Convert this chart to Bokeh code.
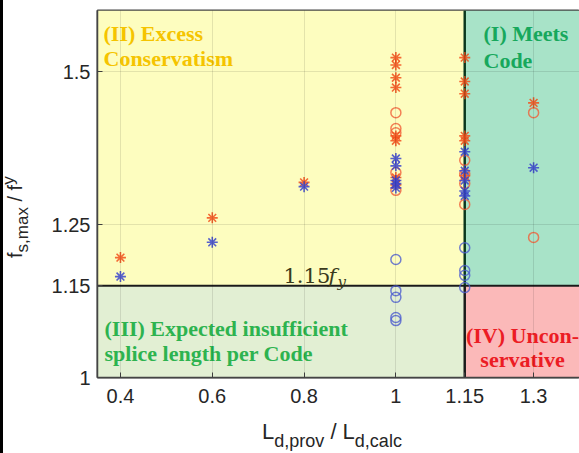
import numpy as np
from bokeh.plotting import figure
from bokeh.models import Label, FixedTicker, CustomJSTickFormatter, Div
from bokeh.layouts import row, column
from bokeh.embed import file_html
from bokeh.resources import INLINE

# ---------------- data ----------------
red_star_x = [0.4, 0.6, 0.8, 1, 1, 1, 1, 1, 1, 1, 1, 1.15, 1.15, 1.15, 1.15, 1.15, 1.15, 1.3]
red_star_y = [1.196, 1.261, 1.319, 1.523, 1.511, 1.490, 1.474, 1.395, 1.387, 1.327, 1.315,
              1.523, 1.484, 1.464, 1.395, 1.387, 1.330, 1.449]

blue_star_x = [0.4, 0.6, 0.8, 1, 1, 1, 1, 1, 1.15, 1.15, 1.15, 1.15, 1.15, 1.3]
blue_star_y = [1.165, 1.221, 1.312, 1.358, 1.346, 1.322, 1.317, 1.310,
               1.369, 1.338, 1.322, 1.305, 1.297, 1.343]

red_circ_x = [1, 1, 1, 1, 1, 1.15, 1.15, 1.15, 1.15, 1.3, 1.3]
red_circ_y = [1.433, 1.407, 1.400, 1.335, 1.306, 1.355, 1.333, 1.317, 1.283, 1.433, 1.229]

blue_circ_x = [1, 1, 1, 1, 1, 1.15, 1.15, 1.15, 1.15]
blue_circ_y = [1.193, 1.142, 1.131, 1.098, 1.093, 1.212, 1.175, 1.167, 1.147]

x_ticks = [0.4, 0.6, 0.8, 1.0, 1.15, 1.3]
y_ticks = [1.0, 1.15, 1.25, 1.5]
x_threshold = 1.15
y_threshold = 1.15
x_lim = (0.35, 1.4)
y_lim = (1.0, 1.6)

# ---------------- layout ----------------
W, H = 579, 453
BAR = 3          # black strip at the far left
YLAB_W = 38      # strip holding the y-axis title
XLAB_H = 40      # strip holding the x-axis title
FL, FT, FR, FB = 97, 10, 579, 377  # frame edges in page pixels
PW = W - BAR - YLAB_W
PH = H - XLAB_H
X0 = BAR + YLAB_W  # page x of the figure's left edge

p = figure(width=PW, height=PH, output_backend="svg", toolbar_location=None,
           x_range=x_lim, y_range=y_lim,
           min_border_left=FL - X0, min_border_right=0,
           min_border_top=FT, min_border_bottom=PH - FB)
p.background_fill_color = "white"
p.border_fill_color = "white"

# regions
p.quad(left=[x_lim[0]], right=[x_threshold], bottom=[y_threshold], top=[y_lim[1]],
       fill_color="#fdfdbf", line_color=None)
p.quad(left=[x_threshold], right=[x_lim[1]], bottom=[y_threshold], top=[y_lim[1]],
       fill_color="#a8e3c8", line_color=None)
p.quad(left=[x_lim[0]], right=[x_threshold], bottom=[y_lim[0]], top=[y_threshold],
       fill_color="#e2efd3", line_color=None)
p.quad(left=[x_threshold], right=[x_lim[1]], bottom=[y_lim[0]], top=[y_threshold],
       fill_color="#fbb9b9", line_color=None)

# boundary lines
p.segment(x0=[x_lim[0]], x1=[x_lim[1]], y0=[y_threshold], y1=[y_threshold],
          line_color="#1e1e1e", line_width=2)
p.segment(x0=[x_threshold], x1=[x_threshold], y0=[y_threshold], y1=[y_lim[1]],
          line_color="#0d3d22", line_width=2.5)
p.segment(x0=[x_threshold], x1=[x_threshold], y0=[y_lim[0]], y1=[y_threshold],
          line_color="#1e1e1e", line_width=2.5)

# markers
p.scatter(red_circ_x, red_circ_y, marker="circle", size=10, fill_color=None,
          line_color="#f0603a", line_width=1.5, line_alpha=0.8)
p.scatter(blue_circ_x, blue_circ_y, marker="circle", size=10, fill_color=None,
          line_color="#4f5fd0", line_width=1.5, line_alpha=0.8)
p.scatter(red_star_x, red_star_y, marker="asterisk", size=11,
          line_color="#f24f1a", line_width=1.6, line_alpha=0.85)
p.scatter(blue_star_x, blue_star_y, marker="asterisk", size=11,
          line_color="#3a44cc", line_width=1.6, line_alpha=0.85)

# axes
fmt = CustomJSTickFormatter(code="return String(Math.round(tick*100)/100)")
for ax, ticks in ((p.xaxis, x_ticks), (p.yaxis, y_ticks)):
    ax.ticker = FixedTicker(ticks=ticks)
    ax.formatter = fmt
    ax.major_label_text_font = "Liberation Sans"
    ax.major_label_text_font_size = "20px"
    ax.major_label_text_color = "#262626"
    ax.axis_line_color = "#444444"
    ax.axis_line_width = 1.5
    ax.major_tick_line_color = "#444444"
    ax.major_tick_in = 5
    ax.major_tick_out = 0
    ax.minor_tick_line_color = None
p.xaxis.major_label_standoff = 11
p.yaxis.major_label_standoff = 7

p.xgrid.ticker = FixedTicker(ticks=x_ticks)
p.ygrid.ticker = FixedTicker(ticks=y_ticks)
for g in (p.xgrid, p.ygrid):
    g.grid_line_color = "#000000"
    g.grid_line_alpha = 0.1
    g.level = "overlay"

p.outline_line_color = "#444444"
p.outline_line_width = 2


def lab(text, px, py, size, color, font="Liberation Serif", style="normal",
        align="left"):
    p.add_layout(Label(x=x_lim[0], y=y_lim[1], x_offset=px - FL, y_offset=-(py - FT),
                       text=text, text_font=font, text_font_size=f"{size}px",
                       text_font_style=style, text_color=color, text_align=align,
                       text_baseline="alphabetic"))


# region labels
gold = "#f5c400"
lab("(II) Excess", 103, 33, 22, gold, style="bold")
lab("Conservatism", 103, 58, 22, gold, style="bold")
green = "#17a85c"
lab("(I) Meets", 483, 33, 22, green, style="bold")
lab("Code", 483, 60, 22, green, style="bold")
green3 = "#2db34f"
lab("(III) Expected insufficient", 104, 328, 22, green3, style="bold")
lab("splice length per Code", 104, 353, 22, green3, style="bold")
red = "#ec1c24"
lab("(IV) Uncon-", 522, 335, 22, red, style="bold", align="center")
lab("servative", 522, 359, 22, red, style="bold", align="center")

# 1.15 f_y annotation
olive = "#3a3a1c"
lab("1.15", 283, 275, 21, olive, font="DejaVu Serif")
lab("f", 328, 275, 21, olive, font="DejaVu Serif", style="italic")
lab("y", 337, 281, 15, olive, font="DejaVu Serif", style="italic")

# ---------------- axis titles as HTML (real text with sub/superscripts) ----------------
ax_col = "#262626"
font_css = "font-family:'Liberation Sans',Arial,sans-serif;color:%s;" % ax_col

xtitle_html = (
    '<div style="position:relative;width:%dpx;height:%dpx;">'
    '<span style="position:absolute;left:%dpx;top:8px;white-space:nowrap;'
    'font-size:22px;line-height:22px;%s">'
    'L<span style="font-size:18px;position:relative;top:8px;">d,prov</span>'
    ' / L<span style="font-size:18px;position:relative;top:8px;">d,calc</span>'
    '</span></div>' % (PW, XLAB_H, 262 - X0, font_css)
)
ytitle_html = (
    '<div style="position:relative;width:%dpx;height:%dpx;">'
    '<span style="position:absolute;left:2px;top:258px;white-space:nowrap;'
    'transform-origin:0 0;transform:rotate(-90deg);'
    'font-size:20px;line-height:20px;%s">'
    'f<span style="font-size:17px;position:relative;top:6px;">s,max</span>'
    ' / f<span style="font-size:17px;position:relative;top:-8px;">y</span>'
    '</span></div>' % (YLAB_W, H, font_css)
)

bar = Div(width=BAR, height=H, margin=0, styles={"background-color": "black"})
ydiv = Div(text=ytitle_html, width=YLAB_W, height=H, margin=0,
           styles={"background-color": "white", "overflow": "visible"})
xdiv = Div(text=xtitle_html, width=PW, height=XLAB_H, margin=0,
           styles={"background-color": "white", "overflow": "visible"})

layout = row(bar, ydiv, column(p, xdiv, spacing=0), spacing=0)

open("out.html", "w").write(file_html(layout, INLINE))
